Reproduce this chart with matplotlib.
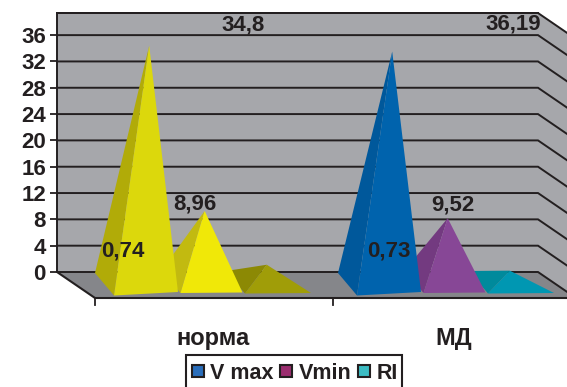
import matplotlib
matplotlib.use('Agg')
from matplotlib import pyplot as plt
from matplotlib.lines import Line2D
from matplotlib.patches import Polygon, Rectangle

categories = ['норма', 'МД']
series = ['V max', 'Vmin', 'RI']
# heights as drawn in the picture, they do not quite follow the printed labels
heights_norma = [36.3, 10.8, 2.7]
heights_md = [35.4, 9.7, 1.8]
labels_norma = ['34,8', '8,96', '0,74']
labels_md = ['36,19', '9,52', '0,73']
y_ticks = [0, 4, 8, 12, 16, 20, 24, 28, 32, 36]

FONT = 'Liberation Sans'
LINE = '#231f20'
WALL = '#a6a7ab'
FLOOR = '#85868a'
W, H = 567, 387
X0, UNIT_X = 95, 243.0     # px of front left corner, px per category
Y0, UNIT_Y = 272, 6.58     # px of value 0 on back wall, px per value
LEFT, RIGHT, TOP = 57, 538, 13
DX, DY = 38 / UNIT_X, -26 / UNIT_Y   # back wall to front of the floor


def px(x, y):
    return (x - X0) / UNIT_X, (Y0 - y) / UNIT_Y


def pyramid(ax, x, h, fl_y, fr_y, width, apex_frac, front, side, z):
    # x is the front left corner, h measured from the middle of the base
    fl = (x, fl_y)
    fr = (x + width, fr_y)
    bl = (x - 19 / UNIT_X, fl_y + 22.5 / UNIT_Y)
    base_mid = fl_y + 11 / UNIT_Y
    apex = (x + apex_frac * width, base_mid + h)
    ax.add_patch(Polygon([bl, fl, apex], fc=side, ec='none', zorder=z, clip_on=False))
    ax.add_patch(Polygon([fl, fr, apex], fc=front, ec='none', zorder=z, clip_on=False))


def main():
    fig = plt.figure(figsize=(W / 100, H / 100), dpi=100)
    ax = fig.add_axes([LEFT / W, 1 - Y0 / H, (RIGHT - LEFT) / W, (Y0 - TOP) / H])
    ax.set_xlim(px(LEFT, 0)[0], px(RIGHT, 0)[0])
    ax.set_ylim(0, px(0, TOP)[1])
    ax.set_facecolor(WALL)
    ax.set_xticks([])
    ax.set_yticks(y_ticks)
    ax.set_yticklabels([str(t) for t in y_ticks], family=FONT, weight='bold', fontsize=16, color=LINE)
    ax.tick_params(axis='y', length=5, width=1.3, color=LINE, pad=3)
    for s in ['right', 'bottom']:
        ax.spines[s].set_visible(False)
    for s in ['left', 'top']:
        ax.spines[s].set_color(LINE)
        ax.spines[s].set_linewidth(1.4)

    xl, xr = ax.get_xlim()
    ytop = ax.get_ylim()[1]
    # side wall and floor
    ax.add_patch(Polygon([(xr, 0), (xr + DX, DY), (xr + DX, ytop + DY), (xr, ytop)],
                         fc=WALL, ec='none', clip_on=False, zorder=1))
    ax.add_patch(Polygon([(xl, 0), (xr, 0), (xr + DX, DY), (xl + DX, DY)],
                         fc=FLOOR, ec='none', clip_on=False, zorder=1))
    # grid, back wall then side wall
    for t in y_ticks + [ytop]:
        ax.plot([xl, xr, xr + DX], [t, t, t + DY], color=LINE, lw=1.4,
                clip_on=False, zorder=2, solid_joinstyle='miter')
    ax.plot([xl, xl + DX, xr + DX], [0, DY, DY], color=LINE, lw=1.5, clip_on=False, zorder=2)
    for t in [0, 0.98]:
        ax.plot([t, t], [DY, DY - 7 / UNIT_Y], color=LINE, lw=1.3, clip_on=False, zorder=2)

    # pyramids, one colour set per category
    fronts = [['#dcd80c', '#f0e808', '#a09d08'], ['#0063ad', '#874796', '#0097b2']]
    sides = [['#b1ab08', '#c2ba10', '#8c8904'], ['#00589b', '#733a80', '#008a9c']]
    offsets = [19 / UNIT_X, 85.5 / UNIT_X, 150 / UNIT_X]
    widths = [64 / UNIT_X, 62 / UNIT_X, 66 / UNIT_X]
    apex_fracs = [0.55, 0.39, 0.33]
    fl_ys = [-23.5 / UNIT_Y, -21 / UNIT_Y, -21.5 / UNIT_Y]
    fr_ys = [-20 / UNIT_Y, -20.5 / UNIT_Y, -21 / UNIT_Y]
    for i, hs in enumerate([heights_norma, heights_md]):
        for j in [2, 1, 0]:
            pyramid(ax, i + offsets[j], hs[j], fl_ys[j], fr_ys[j], widths[j], apex_fracs[j],
                    fronts[i][j], sides[i][j], 5 - j * 0.1)

    # data labels
    label_px = [[(243, 25), (194.5, 204), (122.5, 251)], [(513, 24), (453, 205), (389, 251)]]
    for pos, labs in zip(label_px, [labels_norma, labels_md]):
        for (x, y), lab in zip(pos, labs):
            dx, dy = px(x, y)
            ax.text(dx, dy, lab, family=FONT, weight='bold', fontsize=16, color=LINE,
                    ha='center', va='center', zorder=8, clip_on=False)

    # category labels
    for c, x in zip(categories, [213, 454]):
        dx, dy = px(x, 338)
        ax.text(dx, dy, c, family=FONT, weight='bold', fontsize=17, color=LINE,
                ha='center', va='center', clip_on=False)

    # legend box runs off the bottom of the picture like in the original
    fig.add_artist(Rectangle((186 / W, 1 - 395 / H), 216 / W, 40 / H, transform=fig.transFigure,
                             fc='white', ec=LINE, lw=1.5))
    colors = ['#2a6ebb', '#9b2d6f', '#3cbcc3']
    handles = [Line2D([], [], ls='none', marker='s', ms=9, mfc=c, mec=LINE, mew=1.5) for c in colors]
    leg = fig.legend(handles, series, ncol=3, loc='upper left',
                     bbox_to_anchor=(190 / W, 1 - 363 / H), bbox_transform=fig.transFigure,
                     prop={'family': FONT, 'weight': 'bold', 'size': 15.5}, labelcolor=LINE,
                     frameon=False, borderpad=0, borderaxespad=0,
                     handlelength=0.75, handletextpad=0.2, columnspacing=0.2)
    leg.set_zorder(9)

    fig.savefig('out.png', dpi=100)


if __name__ == '__main__':
    main()
